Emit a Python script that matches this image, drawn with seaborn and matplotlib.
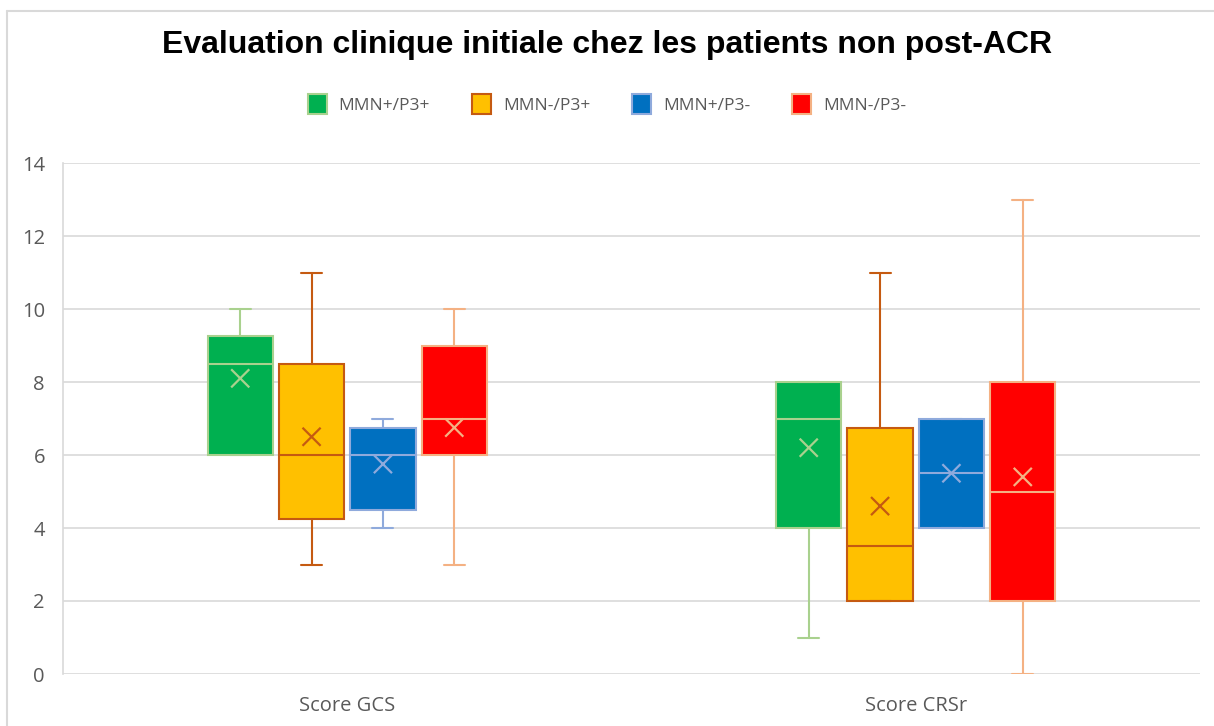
import matplotlib
matplotlib.use("Agg")
import matplotlib.pyplot as plt
from matplotlib.patches import Patch
from matplotlib.lines import Line2D
import seaborn as sns
import pandas as pd
import numpy as np

# ---------------- data ----------------
categories = ["Score GCS", "Score CRSr"]
series = ["MMN+/P3+", "MMN-/P3+", "MMN+/P3-", "MMN-/P3-"]

# per series: values for [GCS, CRSr]
whislo = {"MMN+/P3+": [6, 1],    "MMN-/P3+": [3, 2],     "MMN+/P3-": [4, 4],    "MMN-/P3-": [3, 0]}
q1     = {"MMN+/P3+": [6, 4],    "MMN-/P3+": [4.25, 2],  "MMN+/P3-": [4.5, 4],  "MMN-/P3-": [6, 2]}
median = {"MMN+/P3+": [8.5, 7],  "MMN-/P3+": [6, 3.5],   "MMN+/P3-": [6, 5.5],  "MMN-/P3-": [7, 5]}
q3     = {"MMN+/P3+": [9.25, 8], "MMN-/P3+": [8.5, 6.75],"MMN+/P3-": [6.75, 7], "MMN-/P3-": [9, 8]}
whishi = {"MMN+/P3+": [10, 8],   "MMN-/P3+": [11, 11],   "MMN+/P3-": [7, 7],    "MMN-/P3-": [10, 13]}
mean   = {"MMN+/P3+": [8.1, 6.2],"MMN-/P3+": [6.5, 4.6], "MMN+/P3-": [5.75, 5.5],"MMN-/P3-": [6.75, 5.4]}

y_ticks = [0, 2, 4, 6, 8, 10, 12, 14]

# ---------------- style ----------------
fill_colors = {"MMN+/P3+": "#00B050", "MMN-/P3+": "#FFC000",
               "MMN+/P3-": "#0070C0", "MMN-/P3-": "#FF0000"}
edge_colors = {"MMN+/P3+": "#A9D18E", "MMN-/P3+": "#C55A11",
               "MMN+/P3-": "#8FAADC", "MMN-/P3-": "#F4B183"}

sns.set_theme(style="white")
plt.rcParams["font.family"] = ["Open Sans", "DejaVu Sans"]

fig = plt.figure(figsize=(12.14, 7.26), dpi=100)
ax = fig.add_axes([63 / 1214, 52 / 726, (1200 - 63) / 1214, (674 - 163) / 726])

spacing = 0.1255
box_w = 0.115
offsets = {s: (i - 1.5) * spacing for i, s in enumerate(series)}
base = np.arange(len(categories))

for s in series:
    stats = []
    for j, c in enumerate(categories):
        stats.append(dict(label=c, whislo=whislo[s][j], q1=q1[s][j], med=median[s][j],
                          q3=q3[s][j], whishi=whishi[s][j], mean=mean[s][j], fliers=[]))
    pos = base + offsets[s]
    ec = edge_colors[s]
    ax.bxp(stats, positions=pos, widths=box_w, patch_artist=True, showmeans=False,
           showfliers=False, manage_ticks=False, capwidths=box_w * 0.32,
           boxprops=dict(facecolor=fill_colors[s], edgecolor=ec, linewidth=1.5),
           medianprops=dict(color=ec, linewidth=1.5),
           whiskerprops=dict(color=ec, linewidth=1.5),
           capprops=dict(color=ec, linewidth=1.5), zorder=3)

# means as X markers
mean_df = pd.DataFrame({
    "pos": np.concatenate([base + offsets[s] for s in series]),
    "mean": np.concatenate([mean[s] for s in series]),
    "series": np.repeat(series, len(categories)),
})
sns.scatterplot(data=mean_df, x="pos", y="mean", hue="series", palette=edge_colors,
                marker="x", s=170, linewidth=1.6, legend=False, ax=ax, zorder=4)

ax.set_xlim(-0.5, 1.5)
ax.set_ylim(0, 14)
ax.set_yticks(y_ticks)
ax.set_xticks(base)
ax.set_xticklabels(categories)
ax.set_xlabel("")
ax.set_ylabel("")
ax.grid(axis="y", color="#D9D9D9", linewidth=1.2, zorder=0)
ax.set_axisbelow(True)
for sp in ["top", "right", "bottom"]:
    ax.spines[sp].set_visible(False)
ax.spines["left"].set_color("#D9D9D9")
ax.spines["left"].set_linewidth(1.2)
ax.tick_params(axis="both", length=0, labelsize=14.5, colors="#595959")
ax.tick_params(axis="x", pad=16)
ax.tick_params(axis="y", pad=13)

# title
fig.text(0.5, 1 - 45 / 726, "Evaluation clinique initiale chez les patients non post-ACR",
         ha="center", va="center", fontsize=23, fontweight="bold",
         family=["Liberation Sans", "DejaVu Sans"], color="#000000")

# legend
handles = [Patch(facecolor=fill_colors[s], edgecolor=edge_colors[s], linewidth=1.5, label=s)
           for s in series]
fig.legend(handles=handles, loc="center", bbox_to_anchor=(0.5, 1 - 104 / 726), ncol=4,
           frameon=False, fontsize=12.5, handlelength=1.1, handleheight=1.4,
           handletextpad=0.7, columnspacing=2.4, labelcolor="#595959")

# chart border (top and left visible)
fig.add_artist(Line2D([7 / 1214, 1.0], [1 - 11 / 726, 1 - 11 / 726],
                      transform=fig.transFigure, color="#D9D9D9", linewidth=1.5))
fig.add_artist(Line2D([7 / 1214, 7 / 1214], [0, 1 - 11 / 726],
                      transform=fig.transFigure, color="#D9D9D9", linewidth=1.5))

fig.savefig("out.png", dpi=100, facecolor="white")
